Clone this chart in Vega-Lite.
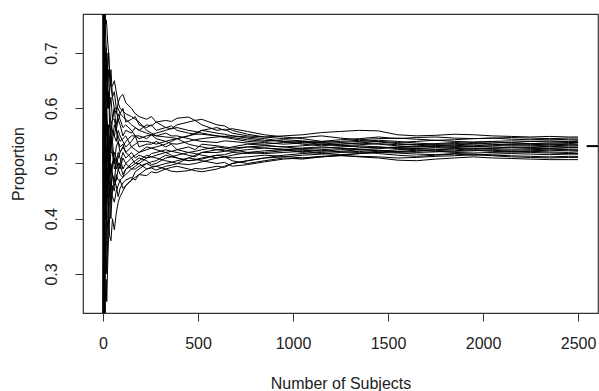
{
"$schema": "https://vega.github.io/schema/vega-lite/v6.json",
"width": 515, "height": 299,
"autosize": "none",
"padding": {"left": 83, "top": 14, "right": 1, "bottom": 78},
"background": "white",
"config": {
  "view": {"stroke": "#333", "strokeWidth": 1.2},
  "font": "Liberation Sans",
  "axis": {"grid": false, "domain": false, "tickColor": "#333", "tickWidth": 1, "tickSize": 8, "labelFont": "Liberation Sans", "labelFontSize": 16, "labelColor": "#222", "titleFont": "Liberation Sans", "titleFontSize": 16, "titleFontWeight": "normal", "titleColor": "#222"}
},
"datasets": {
"walks": [
{"s":"A","n":1,"p":1},{"s":"A","n":2,"p":1},{"s":"A","n":3,"p":0.67},{"s":"A","n":5,"p":0.8},{"s":"A","n":8,"p":0.75},{"s":"A","n":12,"p":0.67},{"s":"A","n":17,"p":0.65},{"s":"A","n":25,"p":0.64},{"s":"A","n":35,"p":0.63},{"s":"A","n":50,"p":0.62},{"s":"A","n":70,"p":0.6},{"s":"A","n":90,"p":0.59},{"s":"A","n":120,"p":0.575},{"s":"A","n":150,"p":0.58},{"s":"A","n":190,"p":0.57},{"s":"A","n":230,"p":0.565},{"s":"A","n":280,"p":0.56},{"s":"A","n":330,"p":0.565},{"s":"A","n":390,"p":0.57},{"s":"A","n":450,"p":0.575},{"s":"A","n":520,"p":0.57},{"s":"A","n":600,"p":0.56},{"s":"A","n":680,"p":0.555},{"s":"A","n":760,"p":0.55},{"s":"A","n":850,"p":0.548},{"s":"A","n":950,"p":0.55},{"s":"A","n":1050,"p":0.552},{"s":"A","n":1150,"p":0.556},{"s":"A","n":1250,"p":0.558},{"s":"A","n":1350,"p":0.56},{"s":"A","n":1450,"p":0.559},{"s":"A","n":1550,"p":0.552},{"s":"A","n":1650,"p":0.55},{"s":"A","n":1750,"p":0.551},{"s":"A","n":1850,"p":0.553},{"s":"A","n":1950,"p":0.552},{"s":"A","n":2050,"p":0.55},{"s":"A","n":2150,"p":0.549},{"s":"A","n":2250,"p":0.548},{"s":"A","n":2350,"p":0.549},{"s":"A","n":2450,"p":0.548},{"s":"A","n":2500,"p":0.548},
{"s":"B","n":1,"p":1},{"s":"B","n":2,"p":0.5},{"s":"B","n":3,"p":0.67},{"s":"B","n":5,"p":0.6},{"s":"B","n":8,"p":0.625},{"s":"B","n":12,"p":0.58},{"s":"B","n":17,"p":0.59},{"s":"B","n":25,"p":0.6},{"s":"B","n":35,"p":0.57},{"s":"B","n":50,"p":0.58},{"s":"B","n":70,"p":0.56},{"s":"B","n":90,"p":0.57},{"s":"B","n":120,"p":0.56},{"s":"B","n":150,"p":0.555},{"s":"B","n":190,"p":0.56},{"s":"B","n":230,"p":0.57},{"s":"B","n":280,"p":0.575},{"s":"B","n":330,"p":0.578},{"s":"B","n":390,"p":0.582},{"s":"B","n":450,"p":0.584},{"s":"B","n":520,"p":0.58},{"s":"B","n":600,"p":0.57},{"s":"B","n":680,"p":0.56},{"s":"B","n":760,"p":0.553},{"s":"B","n":850,"p":0.548},{"s":"B","n":950,"p":0.545},{"s":"B","n":1050,"p":0.547},{"s":"B","n":1150,"p":0.55},{"s":"B","n":1250,"p":0.546},{"s":"B","n":1350,"p":0.543},{"s":"B","n":1450,"p":0.545},{"s":"B","n":1550,"p":0.546},{"s":"B","n":1650,"p":0.544},{"s":"B","n":1750,"p":0.542},{"s":"B","n":1850,"p":0.543},{"s":"B","n":1950,"p":0.545},{"s":"B","n":2050,"p":0.546},{"s":"B","n":2150,"p":0.544},{"s":"B","n":2250,"p":0.543},{"s":"B","n":2350,"p":0.544},{"s":"B","n":2450,"p":0.543},{"s":"B","n":2500,"p":0.543},
{"s":"C","n":1,"p":1},{"s":"C","n":2,"p":1},{"s":"C","n":3,"p":1},{"s":"C","n":5,"p":0.8},{"s":"C","n":8,"p":0.75},{"s":"C","n":12,"p":0.75},{"s":"C","n":17,"p":0.71},{"s":"C","n":25,"p":0.68},{"s":"C","n":35,"p":0.66},{"s":"C","n":50,"p":0.64},{"s":"C","n":70,"p":0.63},{"s":"C","n":90,"p":0.62},{"s":"C","n":120,"p":0.61},{"s":"C","n":150,"p":0.6},{"s":"C","n":190,"p":0.585},{"s":"C","n":230,"p":0.58},{"s":"C","n":280,"p":0.575},{"s":"C","n":330,"p":0.565},{"s":"C","n":390,"p":0.56},{"s":"C","n":450,"p":0.555},{"s":"C","n":520,"p":0.56},{"s":"C","n":600,"p":0.565},{"s":"C","n":680,"p":0.563},{"s":"C","n":760,"p":0.558},{"s":"C","n":850,"p":0.552},{"s":"C","n":950,"p":0.548},{"s":"C","n":1050,"p":0.545},{"s":"C","n":1150,"p":0.54},{"s":"C","n":1250,"p":0.538},{"s":"C","n":1350,"p":0.54},{"s":"C","n":1450,"p":0.542},{"s":"C","n":1550,"p":0.54},{"s":"C","n":1650,"p":0.537},{"s":"C","n":1750,"p":0.535},{"s":"C","n":1850,"p":0.536},{"s":"C","n":1950,"p":0.538},{"s":"C","n":2050,"p":0.539},{"s":"C","n":2150,"p":0.537},{"s":"C","n":2250,"p":0.536},{"s":"C","n":2350,"p":0.535},{"s":"C","n":2450,"p":0.536},{"s":"C","n":2500,"p":0.537},
{"s":"D","n":1,"p":0},{"s":"D","n":2,"p":0.5},{"s":"D","n":3,"p":0.33},{"s":"D","n":5,"p":0.4},{"s":"D","n":8,"p":0.5},{"s":"D","n":12,"p":0.42},{"s":"D","n":17,"p":0.47},{"s":"D","n":25,"p":0.48},{"s":"D","n":35,"p":0.46},{"s":"D","n":50,"p":0.48},{"s":"D","n":70,"p":0.47},{"s":"D","n":90,"p":0.48},{"s":"D","n":120,"p":0.49},{"s":"D","n":150,"p":0.5},{"s":"D","n":190,"p":0.51},{"s":"D","n":230,"p":0.505},{"s":"D","n":280,"p":0.5},{"s":"D","n":330,"p":0.51},{"s":"D","n":390,"p":0.515},{"s":"D","n":450,"p":0.52},{"s":"D","n":520,"p":0.515},{"s":"D","n":600,"p":0.51},{"s":"D","n":680,"p":0.505},{"s":"D","n":760,"p":0.5},{"s":"D","n":850,"p":0.505},{"s":"D","n":950,"p":0.51},{"s":"D","n":1050,"p":0.508},{"s":"D","n":1150,"p":0.512},{"s":"D","n":1250,"p":0.515},{"s":"D","n":1350,"p":0.512},{"s":"D","n":1450,"p":0.51},{"s":"D","n":1550,"p":0.506},{"s":"D","n":1650,"p":0.505},{"s":"D","n":1750,"p":0.508},{"s":"D","n":1850,"p":0.51},{"s":"D","n":1950,"p":0.512},{"s":"D","n":2050,"p":0.51},{"s":"D","n":2150,"p":0.509},{"s":"D","n":2250,"p":0.508},{"s":"D","n":2350,"p":0.507},{"s":"D","n":2450,"p":0.507},{"s":"D","n":2500,"p":0.507},
{"s":"E","n":1,"p":0},{"s":"E","n":2,"p":0},{"s":"E","n":3,"p":0.33},{"s":"E","n":5,"p":0.2},{"s":"E","n":8,"p":0.375},{"s":"E","n":12,"p":0.42},{"s":"E","n":17,"p":0.41},{"s":"E","n":25,"p":0.44},{"s":"E","n":35,"p":0.46},{"s":"E","n":50,"p":0.45},{"s":"E","n":70,"p":0.46},{"s":"E","n":90,"p":0.455},{"s":"E","n":120,"p":0.47},{"s":"E","n":150,"p":0.475},{"s":"E","n":190,"p":0.48},{"s":"E","n":230,"p":0.478},{"s":"E","n":280,"p":0.483},{"s":"E","n":330,"p":0.49},{"s":"E","n":390,"p":0.485},{"s":"E","n":450,"p":0.487},{"s":"E","n":520,"p":0.49},{"s":"E","n":600,"p":0.495},{"s":"E","n":680,"p":0.5},{"s":"E","n":760,"p":0.505},{"s":"E","n":850,"p":0.51},{"s":"E","n":950,"p":0.515},{"s":"E","n":1050,"p":0.518},{"s":"E","n":1150,"p":0.52},{"s":"E","n":1250,"p":0.522},{"s":"E","n":1350,"p":0.525},{"s":"E","n":1450,"p":0.524},{"s":"E","n":1550,"p":0.522},{"s":"E","n":1650,"p":0.52},{"s":"E","n":1750,"p":0.521},{"s":"E","n":1850,"p":0.523},{"s":"E","n":1950,"p":0.525},{"s":"E","n":2050,"p":0.524},{"s":"E","n":2150,"p":0.522},{"s":"E","n":2250,"p":0.523},{"s":"E","n":2350,"p":0.524},{"s":"E","n":2450,"p":0.523},{"s":"E","n":2500,"p":0.523},
{"s":"F","n":1,"p":0},{"s":"F","n":2,"p":0.5},{"s":"F","n":3,"p":0.33},{"s":"F","n":5,"p":0.4},{"s":"F","n":8,"p":0.25},{"s":"F","n":12,"p":0.33},{"s":"F","n":17,"p":0.35},{"s":"F","n":25,"p":0.36},{"s":"F","n":35,"p":0.37},{"s":"F","n":50,"p":0.4},{"s":"F","n":70,"p":0.41},{"s":"F","n":90,"p":0.44},{"s":"F","n":120,"p":0.46},{"s":"F","n":150,"p":0.47},{"s":"F","n":190,"p":0.49},{"s":"F","n":230,"p":0.5},{"s":"F","n":280,"p":0.495},{"s":"F","n":330,"p":0.5},{"s":"F","n":390,"p":0.505},{"s":"F","n":450,"p":0.51},{"s":"F","n":520,"p":0.505},{"s":"F","n":600,"p":0.5},{"s":"F","n":680,"p":0.495},{"s":"F","n":760,"p":0.498},{"s":"F","n":850,"p":0.503},{"s":"F","n":950,"p":0.508},{"s":"F","n":1050,"p":0.51},{"s":"F","n":1150,"p":0.513},{"s":"F","n":1250,"p":0.515},{"s":"F","n":1350,"p":0.518},{"s":"F","n":1450,"p":0.52},{"s":"F","n":1550,"p":0.519},{"s":"F","n":1650,"p":0.517},{"s":"F","n":1750,"p":0.516},{"s":"F","n":1850,"p":0.518},{"s":"F","n":1950,"p":0.517},{"s":"F","n":2050,"p":0.515},{"s":"F","n":2150,"p":0.514},{"s":"F","n":2250,"p":0.513},{"s":"F","n":2350,"p":0.512},{"s":"F","n":2450,"p":0.513},{"s":"F","n":2500,"p":0.513},
{"s":"G","n":1,"p":1},{"s":"G","n":2,"p":0.5},{"s":"G","n":3,"p":0.67},{"s":"G","n":5,"p":0.6},{"s":"G","n":8,"p":0.5},{"s":"G","n":12,"p":0.58},{"s":"G","n":17,"p":0.53},{"s":"G","n":25,"p":0.56},{"s":"G","n":35,"p":0.54},{"s":"G","n":50,"p":0.56},{"s":"G","n":70,"p":0.54},{"s":"G","n":90,"p":0.55},{"s":"G","n":120,"p":0.53},{"s":"G","n":150,"p":0.54},{"s":"G","n":190,"p":0.53},{"s":"G","n":230,"p":0.535},{"s":"G","n":280,"p":0.54},{"s":"G","n":330,"p":0.53},{"s":"G","n":390,"p":0.525},{"s":"G","n":450,"p":0.53},{"s":"G","n":520,"p":0.535},{"s":"G","n":600,"p":0.532},{"s":"G","n":680,"p":0.528},{"s":"G","n":760,"p":0.53},{"s":"G","n":850,"p":0.532},{"s":"G","n":950,"p":0.53},{"s":"G","n":1050,"p":0.527},{"s":"G","n":1150,"p":0.528},{"s":"G","n":1250,"p":0.53},{"s":"G","n":1350,"p":0.532},{"s":"G","n":1450,"p":0.53},{"s":"G","n":1550,"p":0.528},{"s":"G","n":1650,"p":0.527},{"s":"G","n":1750,"p":0.529},{"s":"G","n":1850,"p":0.53},{"s":"G","n":1950,"p":0.531},{"s":"G","n":2050,"p":0.53},{"s":"G","n":2150,"p":0.529},{"s":"G","n":2250,"p":0.53},{"s":"G","n":2350,"p":0.531},{"s":"G","n":2450,"p":0.53},{"s":"G","n":2500,"p":0.53},
{"s":"H","n":1,"p":0},{"s":"H","n":2,"p":0.5},{"s":"H","n":3,"p":0.67},{"s":"H","n":5,"p":0.6},{"s":"H","n":8,"p":0.625},{"s":"H","n":12,"p":0.67},{"s":"H","n":17,"p":0.59},{"s":"H","n":25,"p":0.56},{"s":"H","n":35,"p":0.51},{"s":"H","n":50,"p":0.5},{"s":"H","n":70,"p":0.51},{"s":"H","n":90,"p":0.5},{"s":"H","n":120,"p":0.51},{"s":"H","n":150,"p":0.52},{"s":"H","n":190,"p":0.515},{"s":"H","n":230,"p":0.51},{"s":"H","n":280,"p":0.52},{"s":"H","n":330,"p":0.525},{"s":"H","n":390,"p":0.52},{"s":"H","n":450,"p":0.515},{"s":"H","n":520,"p":0.52},{"s":"H","n":600,"p":0.525},{"s":"H","n":680,"p":0.53},{"s":"H","n":760,"p":0.535},{"s":"H","n":850,"p":0.533},{"s":"H","n":950,"p":0.53},{"s":"H","n":1050,"p":0.532},{"s":"H","n":1150,"p":0.535},{"s":"H","n":1250,"p":0.533},{"s":"H","n":1350,"p":0.53},{"s":"H","n":1450,"p":0.528},{"s":"H","n":1550,"p":0.53},{"s":"H","n":1650,"p":0.532},{"s":"H","n":1750,"p":0.534},{"s":"H","n":1850,"p":0.533},{"s":"H","n":1950,"p":0.531},{"s":"H","n":2050,"p":0.532},{"s":"H","n":2150,"p":0.534},{"s":"H","n":2250,"p":0.533},{"s":"H","n":2350,"p":0.532},{"s":"H","n":2450,"p":0.533},{"s":"H","n":2500,"p":0.533},
{"s":"I","n":1,"p":1},{"s":"I","n":2,"p":1},{"s":"I","n":3,"p":0.67},{"s":"I","n":5,"p":0.6},{"s":"I","n":8,"p":0.5},{"s":"I","n":12,"p":0.5},{"s":"I","n":17,"p":0.47},{"s":"I","n":25,"p":0.52},{"s":"I","n":35,"p":0.54},{"s":"I","n":50,"p":0.56},{"s":"I","n":70,"p":0.57},{"s":"I","n":90,"p":0.58},{"s":"I","n":120,"p":0.57},{"s":"I","n":150,"p":0.56},{"s":"I","n":190,"p":0.55},{"s":"I","n":230,"p":0.545},{"s":"I","n":280,"p":0.55},{"s":"I","n":330,"p":0.555},{"s":"I","n":390,"p":0.55},{"s":"I","n":450,"p":0.545},{"s":"I","n":520,"p":0.54},{"s":"I","n":600,"p":0.538},{"s":"I","n":680,"p":0.54},{"s":"I","n":760,"p":0.537},{"s":"I","n":850,"p":0.535},{"s":"I","n":950,"p":0.538},{"s":"I","n":1050,"p":0.54},{"s":"I","n":1150,"p":0.537},{"s":"I","n":1250,"p":0.535},{"s":"I","n":1350,"p":0.537},{"s":"I","n":1450,"p":0.54},{"s":"I","n":1550,"p":0.538},{"s":"I","n":1650,"p":0.54},{"s":"I","n":1750,"p":0.542},{"s":"I","n":1850,"p":0.54},{"s":"I","n":1950,"p":0.539},{"s":"I","n":2050,"p":0.54},{"s":"I","n":2150,"p":0.541},{"s":"I","n":2250,"p":0.54},{"s":"I","n":2350,"p":0.539},{"s":"I","n":2450,"p":0.54},{"s":"I","n":2500,"p":0.54},
{"s":"J","n":1,"p":0},{"s":"J","n":2,"p":0},{"s":"J","n":3,"p":0.33},{"s":"J","n":5,"p":0.4},{"s":"J","n":8,"p":0.5},{"s":"J","n":12,"p":0.5},{"s":"J","n":17,"p":0.53},{"s":"J","n":25,"p":0.48},{"s":"J","n":35,"p":0.49},{"s":"J","n":50,"p":0.5},{"s":"J","n":70,"p":0.49},{"s":"J","n":90,"p":0.5},{"s":"J","n":120,"p":0.49},{"s":"J","n":150,"p":0.495},{"s":"J","n":190,"p":0.5},{"s":"J","n":230,"p":0.49},{"s":"J","n":280,"p":0.488},{"s":"J","n":330,"p":0.495},{"s":"J","n":390,"p":0.5},{"s":"J","n":450,"p":0.498},{"s":"J","n":520,"p":0.503},{"s":"J","n":600,"p":0.51},{"s":"J","n":680,"p":0.515},{"s":"J","n":760,"p":0.52},{"s":"J","n":850,"p":0.518},{"s":"J","n":950,"p":0.52},{"s":"J","n":1050,"p":0.522},{"s":"J","n":1150,"p":0.518},{"s":"J","n":1250,"p":0.516},{"s":"J","n":1350,"p":0.518},{"s":"J","n":1450,"p":0.52},{"s":"J","n":1550,"p":0.522},{"s":"J","n":1650,"p":0.524},{"s":"J","n":1750,"p":0.522},{"s":"J","n":1850,"p":0.52},{"s":"J","n":1950,"p":0.519},{"s":"J","n":2050,"p":0.52},{"s":"J","n":2150,"p":0.521},{"s":"J","n":2250,"p":0.52},{"s":"J","n":2350,"p":0.519},{"s":"J","n":2450,"p":0.518},{"s":"J","n":2500,"p":0.518},
{"s":"K","n":1,"p":1},{"s":"K","n":2,"p":0.5},{"s":"K","n":3,"p":0.67},{"s":"K","n":5,"p":0.8},{"s":"K","n":8,"p":0.625},{"s":"K","n":12,"p":0.58},{"s":"K","n":17,"p":0.59},{"s":"K","n":25,"p":0.52},{"s":"K","n":35,"p":0.51},{"s":"K","n":50,"p":0.52},{"s":"K","n":70,"p":0.53},{"s":"K","n":90,"p":0.52},{"s":"K","n":120,"p":0.54},{"s":"K","n":150,"p":0.55},{"s":"K","n":190,"p":0.545},{"s":"K","n":230,"p":0.55},{"s":"K","n":280,"p":0.555},{"s":"K","n":330,"p":0.56},{"s":"K","n":390,"p":0.565},{"s":"K","n":450,"p":0.56},{"s":"K","n":520,"p":0.555},{"s":"K","n":600,"p":0.55},{"s":"K","n":680,"p":0.545},{"s":"K","n":760,"p":0.54},{"s":"K","n":850,"p":0.538},{"s":"K","n":950,"p":0.535},{"s":"K","n":1050,"p":0.537},{"s":"K","n":1150,"p":0.54},{"s":"K","n":1250,"p":0.543},{"s":"K","n":1350,"p":0.545},{"s":"K","n":1450,"p":0.548},{"s":"K","n":1550,"p":0.545},{"s":"K","n":1650,"p":0.547},{"s":"K","n":1750,"p":0.548},{"s":"K","n":1850,"p":0.546},{"s":"K","n":1950,"p":0.545},{"s":"K","n":2050,"p":0.546},{"s":"K","n":2150,"p":0.547},{"s":"K","n":2250,"p":0.546},{"s":"K","n":2350,"p":0.545},{"s":"K","n":2450,"p":0.546},{"s":"K","n":2500,"p":0.546},
{"s":"L","n":1,"p":0},{"s":"L","n":2,"p":0.5},{"s":"L","n":3,"p":0.33},{"s":"L","n":5,"p":0.2},{"s":"L","n":8,"p":0.25},{"s":"L","n":12,"p":0.33},{"s":"L","n":17,"p":0.41},{"s":"L","n":25,"p":0.44},{"s":"L","n":35,"p":0.49},{"s":"L","n":50,"p":0.52},{"s":"L","n":70,"p":0.5},{"s":"L","n":90,"p":0.51},{"s":"L","n":120,"p":0.5},{"s":"L","n":150,"p":0.49},{"s":"L","n":190,"p":0.495},{"s":"L","n":230,"p":0.5},{"s":"L","n":280,"p":0.505},{"s":"L","n":330,"p":0.515},{"s":"L","n":390,"p":0.51},{"s":"L","n":450,"p":0.505},{"s":"L","n":520,"p":0.51},{"s":"L","n":600,"p":0.515},{"s":"L","n":680,"p":0.52},{"s":"L","n":760,"p":0.518},{"s":"L","n":850,"p":0.52},{"s":"L","n":950,"p":0.523},{"s":"L","n":1050,"p":0.525},{"s":"L","n":1150,"p":0.524},{"s":"L","n":1250,"p":0.521},{"s":"L","n":1350,"p":0.52},{"s":"L","n":1450,"p":0.522},{"s":"L","n":1550,"p":0.525},{"s":"L","n":1650,"p":0.527},{"s":"L","n":1750,"p":0.526},{"s":"L","n":1850,"p":0.527},{"s":"L","n":1950,"p":0.528},{"s":"L","n":2050,"p":0.527},{"s":"L","n":2150,"p":0.526},{"s":"L","n":2250,"p":0.527},{"s":"L","n":2350,"p":0.527},{"s":"L","n":2450,"p":0.526},{"s":"L","n":2500,"p":0.526},
{"s":"M","n":1,"p":1},{"s":"M","n":2,"p":1},{"s":"M","n":3,"p":1},{"s":"M","n":5,"p":0.8},{"s":"M","n":8,"p":0.875},{"s":"M","n":12,"p":0.75},{"s":"M","n":17,"p":0.76},{"s":"M","n":25,"p":0.72},{"s":"M","n":35,"p":0.66},{"s":"M","n":50,"p":0.62},{"s":"M","n":70,"p":0.6},{"s":"M","n":90,"p":0.59},{"s":"M","n":120,"p":0.58},{"s":"M","n":150,"p":0.57},{"s":"M","n":190,"p":0.56},{"s":"M","n":230,"p":0.555},{"s":"M","n":280,"p":0.545},{"s":"M","n":330,"p":0.54},{"s":"M","n":390,"p":0.535},{"s":"M","n":450,"p":0.54},{"s":"M","n":520,"p":0.545},{"s":"M","n":600,"p":0.548},{"s":"M","n":680,"p":0.55},{"s":"M","n":760,"p":0.546},{"s":"M","n":850,"p":0.542},{"s":"M","n":950,"p":0.54},{"s":"M","n":1050,"p":0.538},{"s":"M","n":1150,"p":0.535},{"s":"M","n":1250,"p":0.532},{"s":"M","n":1350,"p":0.534},{"s":"M","n":1450,"p":0.536},{"s":"M","n":1550,"p":0.534},{"s":"M","n":1650,"p":0.535},{"s":"M","n":1750,"p":0.533},{"s":"M","n":1850,"p":0.531},{"s":"M","n":1950,"p":0.532},{"s":"M","n":2050,"p":0.534},{"s":"M","n":2150,"p":0.535},{"s":"M","n":2250,"p":0.536},{"s":"M","n":2350,"p":0.537},{"s":"M","n":2450,"p":0.538},{"s":"M","n":2500,"p":0.538},
{"s":"N","n":1,"p":0},{"s":"N","n":2,"p":0},{"s":"N","n":3,"p":0},{"s":"N","n":5,"p":0.2},{"s":"N","n":8,"p":0.25},{"s":"N","n":12,"p":0.25},{"s":"N","n":17,"p":0.29},{"s":"N","n":25,"p":0.32},{"s":"N","n":35,"p":0.4},{"s":"N","n":50,"p":0.44},{"s":"N","n":70,"p":0.45},{"s":"N","n":90,"p":0.47},{"s":"N","n":120,"p":0.48},{"s":"N","n":150,"p":0.49},{"s":"N","n":190,"p":0.5},{"s":"N","n":230,"p":0.51},{"s":"N","n":280,"p":0.515},{"s":"N","n":330,"p":0.52},{"s":"N","n":390,"p":0.525},{"s":"N","n":450,"p":0.52},{"s":"N","n":520,"p":0.525},{"s":"N","n":600,"p":0.53},{"s":"N","n":680,"p":0.525},{"s":"N","n":760,"p":0.52},{"s":"N","n":850,"p":0.523},{"s":"N","n":950,"p":0.525},{"s":"N","n":1050,"p":0.528},{"s":"N","n":1150,"p":0.53},{"s":"N","n":1250,"p":0.528},{"s":"N","n":1350,"p":0.525},{"s":"N","n":1450,"p":0.527},{"s":"N","n":1550,"p":0.529},{"s":"N","n":1650,"p":0.53},{"s":"N","n":1750,"p":0.531},{"s":"N","n":1850,"p":0.529},{"s":"N","n":1950,"p":0.527},{"s":"N","n":2050,"p":0.528},{"s":"N","n":2150,"p":0.53},{"s":"N","n":2250,"p":0.529},{"s":"N","n":2350,"p":0.528},{"s":"N","n":2450,"p":0.529},{"s":"N","n":2500,"p":0.529},
{"s":"O","n":1,"p":1},{"s":"O","n":2,"p":0.5},{"s":"O","n":3,"p":0.33},{"s":"O","n":5,"p":0.4},{"s":"O","n":8,"p":0.375},{"s":"O","n":12,"p":0.42},{"s":"O","n":17,"p":0.47},{"s":"O","n":25,"p":0.52},{"s":"O","n":35,"p":0.57},{"s":"O","n":50,"p":0.54},{"s":"O","n":70,"p":0.56},{"s":"O","n":90,"p":0.54},{"s":"O","n":120,"p":0.55},{"s":"O","n":150,"p":0.53},{"s":"O","n":190,"p":0.52},{"s":"O","n":230,"p":0.525},{"s":"O","n":280,"p":0.53},{"s":"O","n":330,"p":0.535},{"s":"O","n":390,"p":0.545},{"s":"O","n":450,"p":0.55},{"s":"O","n":520,"p":0.553},{"s":"O","n":600,"p":0.55},{"s":"O","n":680,"p":0.547},{"s":"O","n":760,"p":0.543},{"s":"O","n":850,"p":0.54},{"s":"O","n":950,"p":0.543},{"s":"O","n":1050,"p":0.541},{"s":"O","n":1150,"p":0.538},{"s":"O","n":1250,"p":0.54},{"s":"O","n":1350,"p":0.542},{"s":"O","n":1450,"p":0.539},{"s":"O","n":1550,"p":0.536},{"s":"O","n":1650,"p":0.534},{"s":"O","n":1750,"p":0.536},{"s":"O","n":1850,"p":0.538},{"s":"O","n":1950,"p":0.536},{"s":"O","n":2050,"p":0.535},{"s":"O","n":2150,"p":0.533},{"s":"O","n":2250,"p":0.534},{"s":"O","n":2350,"p":0.535},{"s":"O","n":2450,"p":0.534},{"s":"O","n":2500,"p":0.534},
{"s":"P","n":1,"p":0},{"s":"P","n":2,"p":0.5},{"s":"P","n":3,"p":0.67},{"s":"P","n":5,"p":0.4},{"s":"P","n":8,"p":0.5},{"s":"P","n":12,"p":0.42},{"s":"P","n":17,"p":0.47},{"s":"P","n":25,"p":0.4},{"s":"P","n":35,"p":0.43},{"s":"P","n":50,"p":0.46},{"s":"P","n":70,"p":0.48},{"s":"P","n":90,"p":0.47},{"s":"P","n":120,"p":0.46},{"s":"P","n":150,"p":0.47},{"s":"P","n":190,"p":0.48},{"s":"P","n":230,"p":0.49},{"s":"P","n":280,"p":0.495},{"s":"P","n":330,"p":0.49},{"s":"P","n":390,"p":0.495},{"s":"P","n":450,"p":0.49},{"s":"P","n":520,"p":0.485},{"s":"P","n":600,"p":0.49},{"s":"P","n":680,"p":0.5},{"s":"P","n":760,"p":0.505},{"s":"P","n":850,"p":0.51},{"s":"P","n":950,"p":0.512},{"s":"P","n":1050,"p":0.515},{"s":"P","n":1150,"p":0.517},{"s":"P","n":1250,"p":0.52},{"s":"P","n":1350,"p":0.522},{"s":"P","n":1450,"p":0.518},{"s":"P","n":1550,"p":0.515},{"s":"P","n":1650,"p":0.513},{"s":"P","n":1750,"p":0.515},{"s":"P","n":1850,"p":0.517},{"s":"P","n":1950,"p":0.515},{"s":"P","n":2050,"p":0.517},{"s":"P","n":2150,"p":0.518},{"s":"P","n":2250,"p":0.517},{"s":"P","n":2350,"p":0.516},{"s":"P","n":2450,"p":0.517},{"s":"P","n":2500,"p":0.517},
{"s":"Q","n":1,"p":1},{"s":"Q","n":2,"p":1},{"s":"Q","n":3,"p":0.67},{"s":"Q","n":5,"p":0.6},{"s":"Q","n":8,"p":0.625},{"s":"Q","n":12,"p":0.67},{"s":"Q","n":17,"p":0.65},{"s":"Q","n":25,"p":0.6},{"s":"Q","n":35,"p":0.6},{"s":"Q","n":50,"p":0.58},{"s":"Q","n":70,"p":0.59},{"s":"Q","n":90,"p":0.6},{"s":"Q","n":120,"p":0.59},{"s":"Q","n":150,"p":0.585},{"s":"Q","n":190,"p":0.575},{"s":"Q","n":230,"p":0.56},{"s":"Q","n":280,"p":0.55},{"s":"Q","n":330,"p":0.548},{"s":"Q","n":390,"p":0.545},{"s":"Q","n":450,"p":0.535},{"s":"Q","n":520,"p":0.53},{"s":"Q","n":600,"p":0.525},{"s":"Q","n":680,"p":0.522},{"s":"Q","n":760,"p":0.525},{"s":"Q","n":850,"p":0.528},{"s":"Q","n":950,"p":0.526},{"s":"Q","n":1050,"p":0.524},{"s":"Q","n":1150,"p":0.522},{"s":"Q","n":1250,"p":0.525},{"s":"Q","n":1350,"p":0.528},{"s":"Q","n":1450,"p":0.53},{"s":"Q","n":1550,"p":0.527},{"s":"Q","n":1650,"p":0.525},{"s":"Q","n":1750,"p":0.524},{"s":"Q","n":1850,"p":0.522},{"s":"Q","n":1950,"p":0.523},{"s":"Q","n":2050,"p":0.525},{"s":"Q","n":2150,"p":0.524},{"s":"Q","n":2250,"p":0.525},{"s":"Q","n":2350,"p":0.526},{"s":"Q","n":2450,"p":0.525},{"s":"Q","n":2500,"p":0.524},
{"s":"R","n":1,"p":0},{"s":"R","n":2,"p":0},{"s":"R","n":3,"p":0.33},{"s":"R","n":5,"p":0.6},{"s":"R","n":8,"p":0.5},{"s":"R","n":12,"p":0.58},{"s":"R","n":17,"p":0.53},{"s":"R","n":25,"p":0.48},{"s":"R","n":35,"p":0.46},{"s":"R","n":50,"p":0.48},{"s":"R","n":70,"p":0.5},{"s":"R","n":90,"p":0.52},{"s":"R","n":120,"p":0.52},{"s":"R","n":150,"p":0.51},{"s":"R","n":190,"p":0.52},{"s":"R","n":230,"p":0.53},{"s":"R","n":280,"p":0.525},{"s":"R","n":330,"p":0.52},{"s":"R","n":390,"p":0.51},{"s":"R","n":450,"p":0.505},{"s":"R","n":520,"p":0.508},{"s":"R","n":600,"p":0.515},{"s":"R","n":680,"p":0.51},{"s":"R","n":760,"p":0.512},{"s":"R","n":850,"p":0.515},{"s":"R","n":950,"p":0.513},{"s":"R","n":1050,"p":0.51},{"s":"R","n":1150,"p":0.512},{"s":"R","n":1250,"p":0.514},{"s":"R","n":1350,"p":0.513},{"s":"R","n":1450,"p":0.512},{"s":"R","n":1550,"p":0.51},{"s":"R","n":1650,"p":0.511},{"s":"R","n":1750,"p":0.513},{"s":"R","n":1850,"p":0.514},{"s":"R","n":1950,"p":0.516},{"s":"R","n":2050,"p":0.514},{"s":"R","n":2150,"p":0.512},{"s":"R","n":2250,"p":0.511},{"s":"R","n":2350,"p":0.51},{"s":"R","n":2450,"p":0.511},{"s":"R","n":2500,"p":0.511},
{"s":"S","n":1,"p":1},{"s":"S","n":2,"p":0.5},{"s":"S","n":3,"p":0.67},{"s":"S","n":5,"p":0.8},{"s":"S","n":8,"p":0.75},{"s":"S","n":12,"p":0.67},{"s":"S","n":17,"p":0.71},{"s":"S","n":25,"p":0.64},{"s":"S","n":35,"p":0.6},{"s":"S","n":50,"p":0.58},{"s":"S","n":70,"p":0.56},{"s":"S","n":90,"p":0.53},{"s":"S","n":120,"p":0.52},{"s":"S","n":150,"p":0.53},{"s":"S","n":190,"p":0.54},{"s":"S","n":230,"p":0.54},{"s":"S","n":280,"p":0.535},{"s":"S","n":330,"p":0.54},{"s":"S","n":390,"p":0.545},{"s":"S","n":450,"p":0.55},{"s":"S","n":520,"p":0.56},{"s":"S","n":600,"p":0.555},{"s":"S","n":680,"p":0.55},{"s":"S","n":760,"p":0.548},{"s":"S","n":850,"p":0.545},{"s":"S","n":950,"p":0.54},{"s":"S","n":1050,"p":0.535},{"s":"S","n":1150,"p":0.532},{"s":"S","n":1250,"p":0.535},{"s":"S","n":1350,"p":0.537},{"s":"S","n":1450,"p":0.535},{"s":"S","n":1550,"p":0.532},{"s":"S","n":1650,"p":0.53},{"s":"S","n":1750,"p":0.532},{"s":"S","n":1850,"p":0.534},{"s":"S","n":1950,"p":0.535},{"s":"S","n":2050,"p":0.537},{"s":"S","n":2150,"p":0.538},{"s":"S","n":2250,"p":0.54},{"s":"S","n":2350,"p":0.541},{"s":"S","n":2450,"p":0.54},{"s":"S","n":2500,"p":0.541},
{"s":"T","n":1,"p":0},{"s":"T","n":2,"p":0.5},{"s":"T","n":3,"p":0.67},{"s":"T","n":5,"p":0.6},{"s":"T","n":8,"p":0.5},{"s":"T","n":12,"p":0.5},{"s":"T","n":17,"p":0.59},{"s":"T","n":25,"p":0.56},{"s":"T","n":35,"p":0.51},{"s":"T","n":50,"p":0.54},{"s":"T","n":70,"p":0.51},{"s":"T","n":90,"p":0.49},{"s":"T","n":120,"p":0.5},{"s":"T","n":150,"p":0.51},{"s":"T","n":190,"p":0.505},{"s":"T","n":230,"p":0.515},{"s":"T","n":280,"p":0.51},{"s":"T","n":330,"p":0.505},{"s":"T","n":390,"p":0.5},{"s":"T","n":450,"p":0.51},{"s":"T","n":520,"p":0.52},{"s":"T","n":600,"p":0.52},{"s":"T","n":680,"p":0.525},{"s":"T","n":760,"p":0.53},{"s":"T","n":850,"p":0.528},{"s":"T","n":950,"p":0.525},{"s":"T","n":1050,"p":0.52},{"s":"T","n":1150,"p":0.525},{"s":"T","n":1250,"p":0.527},{"s":"T","n":1350,"p":0.525},{"s":"T","n":1450,"p":0.523},{"s":"T","n":1550,"p":0.52},{"s":"T","n":1650,"p":0.522},{"s":"T","n":1750,"p":0.525},{"s":"T","n":1850,"p":0.526},{"s":"T","n":1950,"p":0.524},{"s":"T","n":2050,"p":0.522},{"s":"T","n":2150,"p":0.521},{"s":"T","n":2250,"p":0.522},{"s":"T","n":2350,"p":0.521},{"s":"T","n":2450,"p":0.52},{"s":"T","n":2500,"p":0.521},
{"s":"A","n":4,"p":0.75},{"s":"A","n":10,"p":0.6},{"s":"A","n":20,"p":0.7},{"s":"A","n":30,"p":0.6},{"s":"A","n":42,"p":0.67},{"s":"A","n":60,"p":0.63},{"s":"A","n":80,"p":0.575},{"s":"A","n":105,"p":0.6},{"s":"A","n":170,"p":0.585},{"s":"A","n":255,"p":0.57},{"s":"A","n":360,"p":0.563},{"s":"A","n":485,"p":0.578},{"s":"A","n":640,"p":0.562},
{"s":"B","n":4,"p":0.75},{"s":"B","n":10,"p":0.5},{"s":"B","n":20,"p":0.65},{"s":"B","n":30,"p":0.63},{"s":"B","n":42,"p":0.55},{"s":"B","n":60,"p":0.6},{"s":"B","n":80,"p":0.58},{"s":"B","n":105,"p":0.55},{"s":"B","n":170,"p":0.565},{"s":"B","n":255,"p":0.568},{"s":"B","n":360,"p":0.576},{"s":"B","n":485,"p":0.578},{"s":"B","n":640,"p":0.568},
{"s":"C","n":4,"p":0.75},{"s":"C","n":10,"p":0.8},{"s":"C","n":20,"p":0.65},{"s":"C","n":30,"p":0.7},{"s":"C","n":42,"p":0.64},{"s":"C","n":60,"p":0.65},{"s":"C","n":80,"p":0.61},{"s":"C","n":105,"p":0.625},{"s":"C","n":170,"p":0.59},{"s":"C","n":255,"p":0.585},{"s":"C","n":360,"p":0.568},{"s":"C","n":485,"p":0.553},{"s":"C","n":640,"p":0.56},
{"s":"D","n":4,"p":0.25},{"s":"D","n":10,"p":0.5},{"s":"D","n":20,"p":0.4},{"s":"D","n":30,"p":0.5},{"s":"D","n":42,"p":0.45},{"s":"D","n":60,"p":0.46},{"s":"D","n":80,"p":0.49},{"s":"D","n":105,"p":0.475},{"s":"D","n":170,"p":0.505},{"s":"D","n":255,"p":0.498},{"s":"D","n":360,"p":0.512},{"s":"D","n":485,"p":0.518},{"s":"D","n":640,"p":0.512},
{"s":"E","n":4,"p":0.25},{"s":"E","n":10,"p":0.3},{"s":"E","n":20,"p":0.45},{"s":"E","n":30,"p":0.4},{"s":"E","n":42,"p":0.43},{"s":"E","n":60,"p":0.47},{"s":"E","n":80,"p":0.44},{"s":"E","n":105,"p":0.465},{"s":"E","n":170,"p":0.47},{"s":"E","n":255,"p":0.485},{"s":"E","n":360,"p":0.486},{"s":"E","n":485,"p":0.491},{"s":"E","n":640,"p":0.493},
{"s":"F","n":4,"p":0.5},{"s":"F","n":10,"p":0.2},{"s":"F","n":20,"p":0.3},{"s":"F","n":30,"p":0.4},{"s":"F","n":42,"p":0.36},{"s":"F","n":60,"p":0.38},{"s":"F","n":80,"p":0.43},{"s":"F","n":105,"p":0.45},{"s":"F","n":170,"p":0.485},{"s":"F","n":255,"p":0.495},{"s":"F","n":360,"p":0.502},{"s":"F","n":485,"p":0.508},{"s":"F","n":640,"p":0.502},
{"s":"G","n":4,"p":0.5},{"s":"G","n":10,"p":0.6},{"s":"G","n":20,"p":0.5},{"s":"G","n":30,"p":0.57},{"s":"G","n":42,"p":0.52},{"s":"G","n":60,"p":0.55},{"s":"G","n":80,"p":0.56},{"s":"G","n":105,"p":0.54},{"s":"G","n":170,"p":0.55},{"s":"G","n":255,"p":0.535},{"s":"G","n":360,"p":0.535},{"s":"G","n":485,"p":0.525},{"s":"G","n":640,"p":0.53},
{"s":"H","n":4,"p":0.75},{"s":"H","n":10,"p":0.7},{"s":"H","n":20,"p":0.55},{"s":"H","n":30,"p":0.53},{"s":"H","n":42,"p":0.48},{"s":"H","n":60,"p":0.52},{"s":"H","n":80,"p":0.49},{"s":"H","n":105,"p":0.52},{"s":"H","n":170,"p":0.51},{"s":"H","n":255,"p":0.518},{"s":"H","n":360,"p":0.522},{"s":"H","n":485,"p":0.512},{"s":"H","n":640,"p":0.526},
{"s":"I","n":4,"p":0.75},{"s":"I","n":10,"p":0.4},{"s":"I","n":20,"p":0.5},{"s":"I","n":30,"p":0.5},{"s":"I","n":42,"p":0.57},{"s":"I","n":60,"p":0.55},{"s":"I","n":80,"p":0.59},{"s":"I","n":105,"p":0.565},{"s":"I","n":170,"p":0.55},{"s":"I","n":255,"p":0.552},{"s":"I","n":360,"p":0.55},{"s":"I","n":485,"p":0.542},{"s":"I","n":640,"p":0.541},
{"s":"J","n":4,"p":0.25},{"s":"J","n":10,"p":0.6},{"s":"J","n":20,"p":0.45},{"s":"J","n":30,"p":0.53},{"s":"J","n":42,"p":0.45},{"s":"J","n":60,"p":0.51},{"s":"J","n":80,"p":0.5},{"s":"J","n":105,"p":0.48},{"s":"J","n":170,"p":0.5},{"s":"J","n":255,"p":0.492},{"s":"J","n":360,"p":0.497},{"s":"J","n":485,"p":0.5},{"s":"J","n":640,"p":0.512},
{"s":"K","n":4,"p":0.75},{"s":"K","n":10,"p":0.7},{"s":"K","n":20,"p":0.55},{"s":"K","n":30,"p":0.47},{"s":"K","n":42,"p":0.55},{"s":"K","n":60,"p":0.5},{"s":"K","n":80,"p":0.54},{"s":"K","n":105,"p":0.53},{"s":"K","n":170,"p":0.55},{"s":"K","n":255,"p":0.552},{"s":"K","n":360,"p":0.563},{"s":"K","n":485,"p":0.558},{"s":"K","n":640,"p":0.547},
{"s":"L","n":4,"p":0.25},{"s":"L","n":10,"p":0.2},{"s":"L","n":20,"p":0.45},{"s":"L","n":30,"p":0.47},{"s":"L","n":42,"p":0.52},{"s":"L","n":60,"p":0.49},{"s":"L","n":80,"p":0.52},{"s":"L","n":105,"p":0.49},{"s":"L","n":170,"p":0.49},{"s":"L","n":255,"p":0.503},{"s":"L","n":360,"p":0.512},{"s":"L","n":485,"p":0.507},{"s":"L","n":640,"p":0.516},
{"s":"M","n":4,"p":0.75},{"s":"M","n":10,"p":0.9},{"s":"M","n":20,"p":0.75},{"s":"M","n":30,"p":0.7},{"s":"M","n":42,"p":0.64},{"s":"M","n":60,"p":0.6},{"s":"M","n":80,"p":0.6},{"s":"M","n":105,"p":0.585},{"s":"M","n":170,"p":0.565},{"s":"M","n":255,"p":0.552},{"s":"M","n":360,"p":0.536},{"s":"M","n":485,"p":0.543},{"s":"M","n":640,"p":0.549},
{"s":"N","n":4,"p":0.25},{"s":"N","n":10,"p":0.2},{"s":"N","n":20,"p":0.25},{"s":"N","n":30,"p":0.37},{"s":"N","n":42,"p":0.45},{"s":"N","n":60,"p":0.43},{"s":"N","n":80,"p":0.46},{"s":"N","n":105,"p":0.475},{"s":"N","n":170,"p":0.495},{"s":"N","n":255,"p":0.512},{"s":"N","n":360,"p":0.522},{"s":"N","n":485,"p":0.522},{"s":"N","n":640,"p":0.528},
{"s":"O","n":4,"p":0.25},{"s":"O","n":10,"p":0.3},{"s":"O","n":20,"p":0.5},{"s":"O","n":30,"p":0.57},{"s":"O","n":42,"p":0.55},{"s":"O","n":60,"p":0.57},{"s":"O","n":80,"p":0.55},{"s":"O","n":105,"p":0.545},{"s":"O","n":170,"p":0.525},{"s":"O","n":255,"p":0.528},{"s":"O","n":360,"p":0.54},{"s":"O","n":485,"p":0.553},{"s":"O","n":640,"p":0.549},
{"s":"P","n":4,"p":0.5},{"s":"P","n":10,"p":0.5},{"s":"P","n":20,"p":0.35},{"s":"P","n":30,"p":0.43},{"s":"P","n":42,"p":0.4},{"s":"P","n":60,"p":0.45},{"s":"P","n":80,"p":0.47},{"s":"P","n":105,"p":0.455},{"s":"P","n":170,"p":0.475},{"s":"P","n":255,"p":0.493},{"s":"P","n":360,"p":0.493},{"s":"P","n":485,"p":0.487},{"s":"P","n":640,"p":0.495},
{"s":"Q","n":4,"p":0.75},{"s":"Q","n":10,"p":0.6},{"s":"Q","n":20,"p":0.7},{"s":"Q","n":30,"p":0.63},{"s":"Q","n":42,"p":0.62},{"s":"Q","n":60,"p":0.6},{"s":"Q","n":80,"p":0.61},{"s":"Q","n":105,"p":0.595},{"s":"Q","n":170,"p":0.58},{"s":"Q","n":255,"p":0.555},{"s":"Q","n":360,"p":0.547},{"s":"Q","n":485,"p":0.532},{"s":"Q","n":640,"p":0.523},
{"s":"R","n":4,"p":0.5},{"s":"R","n":10,"p":0.5},{"s":"R","n":20,"p":0.5},{"s":"R","n":30,"p":0.43},{"s":"R","n":42,"p":0.5},{"s":"R","n":60,"p":0.47},{"s":"R","n":80,"p":0.51},{"s":"R","n":105,"p":0.53},{"s":"R","n":170,"p":0.515},{"s":"R","n":255,"p":0.528},{"s":"R","n":360,"p":0.515},{"s":"R","n":485,"p":0.506},{"s":"R","n":640,"p":0.512},
{"s":"S","n":4,"p":0.75},{"s":"S","n":10,"p":0.8},{"s":"S","n":20,"p":0.65},{"s":"S","n":30,"p":0.67},{"s":"S","n":42,"p":0.57},{"s":"S","n":60,"p":0.58},{"s":"S","n":80,"p":0.54},{"s":"S","n":105,"p":0.535},{"s":"S","n":170,"p":0.535},{"s":"S","n":255,"p":0.538},{"s":"S","n":360,"p":0.543},{"s":"S","n":485,"p":0.555},{"s":"S","n":640,"p":0.553},
{"s":"T","n":4,"p":0.5},{"s":"T","n":10,"p":0.4},{"s":"T","n":20,"p":0.6},{"s":"T","n":30,"p":0.5},{"s":"T","n":42,"p":0.55},{"s":"T","n":60,"p":0.5},{"s":"T","n":80,"p":0.5},{"s":"T","n":105,"p":0.51},{"s":"T","n":170,"p":0.5},{"s":"T","n":255,"p":0.512},{"s":"T","n":360,"p":0.503},{"s":"T","n":485,"p":0.515},{"s":"T","n":640,"p":0.522}
],
"truth": [{"n": 2545, "n2": 2610, "p": 0.5315}]
},
"layer": [
{
  "data": {"name": "walks"},
  "mark": {"type": "line", "stroke": "black", "strokeWidth": 1, "clip": true},
  "encoding": {
    "x": {"field": "n", "type": "quantitative", "scale": {"domain": [-105, 2605], "nice": false, "zero": false},
      "axis": {"values": [0, 500, 1000, 1500, 2000, 2500], "format": "d", "title": "Number of Subjects", "labelPadding": 14, "titleX": 257.5, "titleY": 70, "titleBaseline": "middle", "titleAlign": "center"}},
    "y": {"field": "p", "type": "quantitative", "scale": {"domain": [0.2294, 0.7706], "nice": false, "zero": false},
      "axis": {"values": [0.3, 0.4, 0.5, 0.6, 0.7], "format": ".1f", "title": "Proportion", "labelAngle": -90, "labelAlign": "center", "labelBaseline": "bottom", "labelPadding": 16, "titleX": -65, "titleY": 149.5, "titleAngle": -90, "titleBaseline": "middle", "titleAlign": "center"}},
    "detail": {"field": "s", "type": "nominal"},
    "order": {"field": "n", "type": "quantitative"}
  }
},
{
  "data": {"name": "truth"},
  "mark": {"type": "rule", "stroke": "black", "strokeWidth": 2, "clip": true},
  "encoding": {
    "x": {"field": "n", "type": "quantitative"},
    "x2": {"field": "n2"},
    "y": {"field": "p", "type": "quantitative"}
  }
}
]
}
